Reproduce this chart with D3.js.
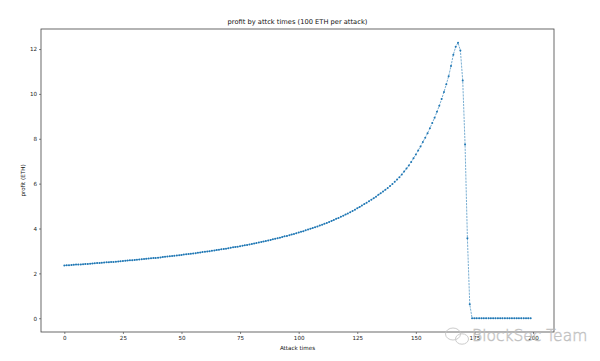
<!DOCTYPE html>
<html>
<head>
<meta charset="utf-8">
<script src="https://cdn.jsdelivr.net/npm/d3@7"></script>
<style>
  html, body { margin: 0; padding: 0; background: #fff; }
  svg { display: block; }
  text { font-family: "DejaVu Sans", sans-serif; }
</style>
</head>
<body>
<svg id="chart" width="600" height="361"></svg>
<script>
const title = "profit by attck times (100 ETH per attack)";
const xLabel = "Attack times";
const yLabel = "profit (ETH)";
const xTicks = [0, 25, 50, 75, 100, 125, 150, 175, 200];
const yTicks = [0, 2, 4, 6, 8, 10, 12];
const watermark = "BlockSec Team";

// profit per attack count, attack times 0..199
const profit = [
  2.35, 2.36, 2.36, 2.37, 2.38, 2.39, 2.39, 2.40, 2.41, 2.42,
  2.42, 2.43, 2.44, 2.45, 2.46, 2.46, 2.47, 2.48, 2.49, 2.50,
  2.51, 2.51, 2.52, 2.53, 2.54, 2.55, 2.56, 2.57, 2.58, 2.59,
  2.60, 2.61, 2.62, 2.63, 2.64, 2.65, 2.66, 2.67, 2.68, 2.69,
  2.70, 2.71, 2.73, 2.74, 2.75, 2.76, 2.77, 2.78, 2.80, 2.81,
  2.82, 2.84, 2.85, 2.86, 2.87, 2.89, 2.90, 2.92, 2.93, 2.95,
  2.96, 2.98, 2.99, 3.01, 3.02, 3.04, 3.05, 3.07, 3.09, 3.10,
  3.12, 3.14, 3.16, 3.18, 3.19, 3.21, 3.23, 3.25, 3.27, 3.29,
  3.31, 3.33, 3.35, 3.38, 3.40, 3.42, 3.44, 3.47, 3.49, 3.52,
  3.54, 3.57, 3.59, 3.62, 3.65, 3.67, 3.70, 3.73, 3.76, 3.79,
  3.82, 3.85, 3.88, 3.92, 3.95, 3.99, 4.02, 4.06, 4.09, 4.13,
  4.17, 4.21, 4.25, 4.29, 4.34, 4.38, 4.43, 4.47, 4.52, 4.57,
  4.62, 4.67, 4.73, 4.78, 4.84, 4.90, 4.96, 5.02, 5.09, 5.15,
  5.22, 5.28, 5.35, 5.42, 5.50, 5.57, 5.65, 5.73, 5.81, 5.89,
  5.98, 6.08, 6.18, 6.29, 6.41, 6.54, 6.67, 6.81, 6.96, 7.13,
  7.30, 7.48, 7.66, 7.86, 8.05, 8.25, 8.47, 8.70, 8.94, 9.20,
  9.47, 9.77, 10.09, 10.43, 10.79, 11.25, 11.75, 12.10, 12.28, 11.94,
  10.60, 7.74, 3.56, 0.62, 0, 0, 0, 0, 0, 0,
  0, 0, 0, 0, 0, 0, 0, 0, 0, 0,
  0, 0, 0, 0, 0, 0, 0, 0, 0, 0
];
const attackTimes = profit.map((_, i) => i);

const svg = d3.select("#chart");
const mLeft = 41, mRight = 554, mTop = 29, mBottom = 332;

const xMin = d3.min(attackTimes), xMax = d3.max(attackTimes);
const xPad = (xMax - xMin) * 0.05;
const yMin = d3.min(profit), yMax = d3.max(profit);
const yPad = (yMax - yMin) * 0.05;

const x = d3.scaleLinear().domain([xMin - xPad, xMax + xPad]).range([mLeft, mRight]);
const y = d3.scaleLinear().domain([yMin - yPad, yMax + yPad]).range([mBottom, mTop]);

const color = "#1f77b4";
const fontSize = 5.6;

// axes
const xAxis = svg.append("g")
  .attr("transform", `translate(0,${mBottom})`)
  .call(d3.axisBottom(x).tickValues(xTicks).tickSize(2).tickPadding(2).tickFormat(d3.format("d")));
const yAxis = svg.append("g")
  .attr("transform", `translate(${mLeft},0)`)
  .call(d3.axisLeft(y).tickValues(yTicks).tickSize(2).tickPadding(2).tickFormat(d3.format("d")));

[xAxis, yAxis].forEach(g => {
  g.select(".domain").remove();
  g.selectAll(".tick line").attr("stroke", "#333").attr("stroke-width", 0.6);
  g.selectAll(".tick text").attr("font-size", fontSize).attr("fill", "#222")
    .attr("font-family", "DejaVu Sans, sans-serif");
});

// frame
svg.append("rect")
  .attr("x", mLeft).attr("y", mTop)
  .attr("width", mRight - mLeft).attr("height", mBottom - mTop)
  .attr("fill", "none").attr("stroke", "#444").attr("stroke-width", 0.8);

// line
const line = d3.line().x((d, i) => x(attackTimes[i])).y(d => y(d));
svg.append("path")
  .datum(profit)
  .attr("d", line)
  .attr("fill", "none")
  .attr("stroke", color)
  .attr("stroke-width", 0.6)
  .attr("stroke-dasharray", "2.2,1");

// markers
svg.append("g").selectAll("circle")
  .data(profit)
  .join("circle")
  .attr("cx", (d, i) => x(attackTimes[i]))
  .attr("cy", d => y(d))
  .attr("r", 1.0)
  .attr("fill", color);

// title and labels
svg.append("text")
  .attr("x", (mLeft + mRight) / 2).attr("y", 23.5)
  .attr("text-anchor", "middle").attr("font-size", 6.7).attr("fill", "#111")
  .text(title);
svg.append("text")
  .attr("x", (mLeft + mRight) / 2).attr("y", 349.5)
  .attr("text-anchor", "middle").attr("font-size", fontSize).attr("fill", "#111")
  .text(xLabel);
svg.append("text")
  .attr("transform", `translate(25,${(mTop + mBottom) / 2}) rotate(-90)`)
  .attr("text-anchor", "middle").attr("font-size", fontSize).attr("fill", "#111")
  .text(yLabel);

// watermark
const wm = svg.append("g").attr("opacity", 0.85);
wm.append("ellipse").attr("cx", 453).attr("cy", 334).attr("rx", 7.5).attr("ry", 6)
  .attr("fill", "none").attr("stroke", "#c4c4c4").attr("stroke-width", 1);
wm.append("ellipse").attr("cx", 462).attr("cy", 339).attr("rx", 6.5).attr("ry", 5.2)
  .attr("fill", "none").attr("stroke", "#c4c4c4").attr("stroke-width", 1);
wm.append("text")
  .attr("x", 472).attr("y", 341)
  .attr("font-family", "Lato, 'Open Sans', sans-serif")
  .attr("font-weight", 300)
  .attr("font-size", 15.5)
  .attr("fill", "#fff").attr("fill-opacity", 0.5)
  .attr("stroke", "#b8b8b8").attr("stroke-width", 0.6)
  .text(watermark);
</script>
</body>
</html>
